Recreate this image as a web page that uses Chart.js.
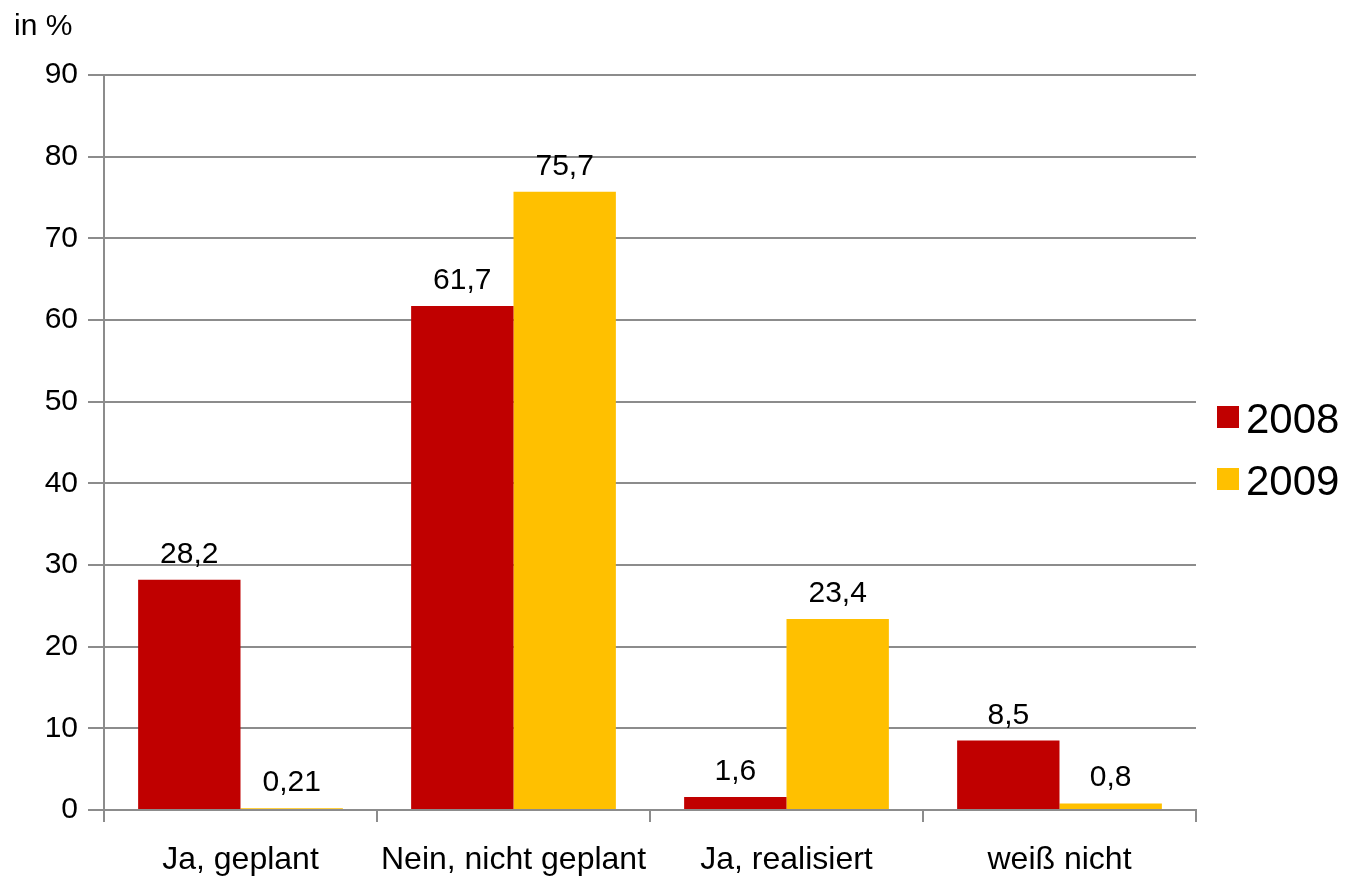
<!DOCTYPE html>
<html>
<head>
<meta charset="utf-8">
<script src="https://cdn.jsdelivr.net/npm/chart.js@4"></script>
<style>
  html, body { margin: 0; padding: 0; background: #fff; }
  #wrap { width: 1345px; height: 876px; }
</style>
</head>
<body>
<div id="wrap"><canvas id="chart"></canvas></div>
<script>
// categories and values
const categories = ['Ja, geplant', 'Nein, nicht geplant', 'Ja, realisiert', 'weiß nicht'];
const years = ['2008', '2009'];
const values2008 = [28.2, 61.7, 1.6, 8.5];
const values2009 = [0.21, 75.7, 23.4, 0.8];
const labels2008 = ['28,2', '61,7', '1,6', '8,5'];
const labels2009 = ['0,21', '75,7', '23,4', '0,8'];
const yTicks = [0, 10, 20, 30, 40, 50, 60, 70, 80, 90];

const FONT = 'Liberation Sans, Arial, sans-serif';
const GRID = '#8c8c8c';

// value labels above each bar
const valueLabels = {
  id: 'valueLabels',
  afterDatasetsDraw(chart) {
    const ctx = chart.ctx;
    ctx.save();
    ctx.font = '30px ' + FONT;
    ctx.fillStyle = '#000';
    ctx.textAlign = 'center';
    ctx.textBaseline = 'alphabetic';
    chart.data.datasets.forEach((ds, i) => {
      chart.getDatasetMeta(i).data.forEach((bar, j) => {
        ctx.fillText(ds.valueText[j], bar.x, bar.y - 17);
      });
    });
    ctx.restore();
  }
};

// legend on the right + unit text top left
const extras = {
  id: 'extras',
  afterDraw(chart) {
    const ctx = chart.ctx;
    ctx.save();
    ctx.fillStyle = '#000';
    ctx.font = '30px ' + FONT;
    ctx.textBaseline = 'alphabetic';
    ctx.fillText('in %', 14, 35);

    ctx.font = '42px ' + FONT;
    chart.data.datasets.forEach((ds, i) => {
      const y = 417 + i * 62;
      ctx.fillStyle = ds.backgroundColor;
      ctx.fillRect(1217, y - 11, 22, 22);
      ctx.fillStyle = '#000';
      ctx.fillText(ds.label, 1246, y + 16);
    });
    ctx.restore();
  }
};

new Chart(document.getElementById('chart'), {
  type: 'bar',
  data: {
    labels: categories,
    datasets: [
      { label: years[0], data: values2008, valueText: labels2008, backgroundColor: '#c00000' },
      { label: years[1], data: values2009, valueText: labels2009, backgroundColor: '#ffc000' }
    ]
  },
  options: {
    responsive: true,
    maintainAspectRatio: false,
    animation: false,
    layout: { padding: { top: 75, right: 149, left: 0, bottom: 0 } },
    categoryPercentage: 0.75,
    barPercentage: 1,
    plugins: {
      legend: { display: false },
      tooltip: { enabled: false }
    },
    scales: {
      x: {
        grid: { drawOnChartArea: false, color: GRID, lineWidth: 2, tickLength: 12, offset: true },
        border: { color: GRID, width: 2 },
        ticks: { color: '#000', font: { family: FONT, size: 32 }, padding: 19, maxRotation: 0 },
        afterFit(scale) { scale.height = 66; }
      },
      y: {
        min: 0,
        max: 90,
        afterBuildTicks(scale) { scale.ticks = yTicks.map(v => ({ value: v })); },
        grid: { color: GRID, lineWidth: 2, tickLength: 16 },
        border: { color: GRID, width: 2 },
        ticks: { color: '#000', font: { family: FONT, size: 30 }, padding: 10 },
        afterFit(scale) { scale.width = 104; }
      }
    }
  },
  plugins: [valueLabels, extras]
});
</script>
</body>
</html>
